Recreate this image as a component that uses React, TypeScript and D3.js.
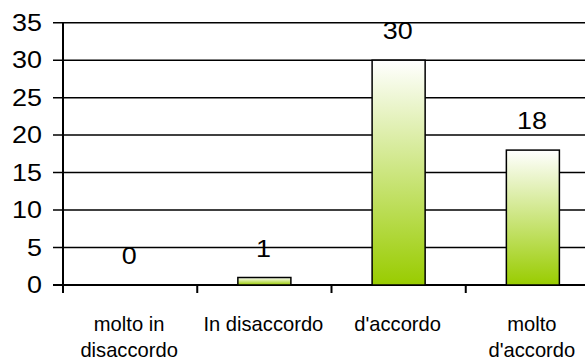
import React from "react";
import * as d3 from "d3";

const categories: string[][] = [
  ["molto in", "disaccordo"],
  ["In disaccordo"],
  ["d'accordo"],
  ["molto", "d'accordo"],
];
const values: number[] = [0, 1, 30, 18];
const yTicks: number[] = [0, 5, 10, 15, 20, 25, 30, 35];

const W = 585;
const H = 360;

export default function App() {
  const x = d3
    .scaleBand<number>()
    .domain(values.map((_, i) => i))
    .range([63, 600])
    .paddingInner(0)
    .paddingOuter(0);
  const y = d3.scaleLinear().domain([0, 35]).range([285, 22.7]);
  const bw = x.bandwidth();
  const barW = bw * 0.395;
  const font = "'Liberation Sans', Arial, sans-serif";
  const boundaries = d3.range(values.length + 1).map((i) => 63 + i * bw);

  return (
    <svg
      width={W}
      height={H}
      style={{ position: "absolute", left: 0, top: 0, background: "#fff" }}
    >
      <defs>
        <linearGradient id="barGrad" x1="0" y1="0" x2="0" y2="1">
          <stop offset="0%" stopColor="#ffffff" />
          <stop offset="100%" stopColor="#99cc00" />
        </linearGradient>
      </defs>
      {yTicks.map((t) => (
        <line
          key={"g" + t}
          x1={53}
          x2={W}
          y1={y(t)}
          y2={y(t)}
          stroke="#000"
          strokeWidth={t === 0 ? 2 : 1.5}
        />
      ))}
      <line x1={63} x2={63} y1={y(35)} y2={y(0)} stroke="#000" strokeWidth={2} />
      {boundaries.map((b, i) => (
        <line key={"xt" + i} x1={b} x2={b} y1={y(0)} y2={y(0) + 8} stroke="#000" strokeWidth={2} />
      ))}
      {yTicks.map((t) => (
        <text
          key={"yl" + t}
          transform={`translate(42,${y(t) + 8.3}) scale(1.17,1)`}
          textAnchor="end"
          fontFamily={font}
          fontSize={23}
          fill="#000"
        >
          {t}
        </text>
      ))}
      {values.map((v, i) => {
        const cx = (x(i) as number) + bw / 2;
        const top = y(v);
        const h = y(0) - top;
        return (
          <g key={"b" + i}>
            {h > 0 && (
              <rect
                x={cx - barW / 2}
                y={top}
                width={barW}
                height={h}
                fill="url(#barGrad)"
                stroke="#000"
                strokeWidth={1.5}
              />
            )}
            <text
              transform={`translate(${cx - 1},${top - 21}) scale(1.17,1)`}
              textAnchor="middle"
              fontFamily={font}
              fontSize={23}
              fill="#000"
            >
              {v}
            </text>
          </g>
        );
      })}
      {categories.map((lines, i) => {
        const cx = (x(i) as number) + bw / 2;
        return lines.map((ln, j) => (
          <text
            key={"c" + i + "_" + j}
            transform={`translate(${cx - 1},${331 + j * 26}) scale(0.96,1)`}
            textAnchor="middle"
            fontFamily={font}
            fontSize={21}
            fill="#000"
          >
            {ln}
          </text>
        ));
      })}
    </svg>
  );
}
